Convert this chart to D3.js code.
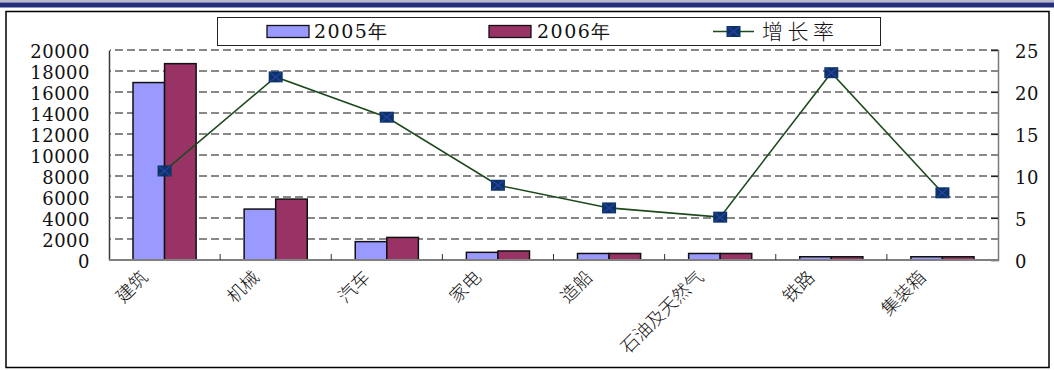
<!DOCTYPE html>
<html>
<head>
<meta charset="utf-8">
<script src="https://cdn.jsdelivr.net/npm/d3@7/dist/d3.min.js"></script>
<style>
  html, body { margin: 0; padding: 0; background: #fff; }
  svg { display: block; }
</style>
</head>
<body>
<script>
// Industry output by sector, 2005 vs 2006, with year-on-year growth rate (%)
const categories = ['建筑', '机械', '汽车', '家电', '造船', '石油及天然气', '铁路', '集装箱'];
const values2005 = [16900, 4850, 1750, 730, 620, 620, 310, 310];
const values2006 = [18700, 5800, 2150, 860, 620, 620, 310, 310];
const growthRate = [10.6, 21.8, 17.0, 8.9, 6.2, 5.1, 22.3, 8.0];
const seriesNames = ['2005年', '2006年'];
const lineName = '增长率';
const leftTicks = [0, 2000, 4000, 6000, 8000, 10000, 12000, 14000, 16000, 18000, 20000];
const rightTicks = [0, 5, 10, 15, 20, 25];

const W = 1054, H = 370;
const plot = { left: 109, right: 998, top: 50, bottom: 260 };
const barColors = ['#9999FF', '#993366'];
const numFont = '"DejaVu Serif"';
const cjkFont = '"Noto Sans CJK SC"';

const svg = d3.select('body').append('svg')
  .attr('width', W).attr('height', H)
  .attr('viewBox', `0 0 ${W} ${H}`);

svg.append('rect').attr('width', W).attr('height', H).attr('fill', '#fff');

// header strip
svg.append('rect').attr('x', 0).attr('y', 0).attr('width', W).attr('height', 2.5).attr('fill', '#b9bccb');
svg.append('rect').attr('x', 0).attr('y', 2.5).attr('width', W).attr('height', 5).attr('fill', '#252f7c');

// outer frame
svg.append('rect')
  .attr('x', 6).attr('y', 11.5).attr('width', 1043).attr('height', 356)
  .attr('fill', 'none').attr('stroke', '#000').attr('stroke-width', 1.5);

// scales
const x0 = d3.scaleBand().domain(categories).range([plot.left, plot.right]);
const bw = x0.bandwidth();
const x1 = d3.scaleBand().domain(seriesNames).range([bw * 0.216, bw * 0.784]);
const yL = d3.scaleLinear().domain([0, 20000]).range([plot.bottom, plot.top]);
const yR = d3.scaleLinear().domain([0, 25]).range([plot.bottom, plot.top]);

// dashed gridlines
svg.append('g')
  .selectAll('line')
  .data(leftTicks.filter(d => d > 0))
  .join('line')
  .attr('x1', plot.left + 1).attr('x2', plot.right)
  .attr('y1', d => yL(d)).attr('y2', d => yL(d))
  .attr('stroke', '#111').attr('stroke-width', 1)
  .attr('stroke-dasharray', '8,4')
  .attr('stroke-dashoffset', -5);

// bars
const seriesValues = [values2005, values2006];
const barG = svg.append('g');
seriesNames.forEach((name, si) => {
  barG.append('g')
    .selectAll('rect')
    .data(categories.map((c, i) => ({ c, v: seriesValues[si][i] })))
    .join('rect')
    .attr('x', d => x0(d.c) + x1(name))
    .attr('y', d => yL(d.v))
    .attr('width', x1.bandwidth())
    .attr('height', d => yL(0) - yL(d.v))
    .attr('fill', barColors[si])
    .attr('stroke', '#111')
    .attr('stroke-width', 1.5);
});

// left axis
const axisL = d3.axisLeft(yL).tickValues(leftTicks).tickFormat(d3.format('d'))
  .tickSize(0).tickPadding(19);
const gL = svg.append('g').attr('transform', `translate(${plot.left},0)`).call(axisL)
  .attr('font-family', null).attr('font-size', null);
gL.select('.domain').attr('stroke', '#3a3a3a').attr('stroke-width', 1.5);
gL.selectAll('text')
  .style('font-family', numFont).style('font-size', '18px')
  .style('letter-spacing', '0.5px')
  .attr('fill', '#111')
  .attr('dy', '0.4em');

// right axis
const axisR = d3.axisRight(yR).tickValues(rightTicks).tickFormat(d3.format('d'))
  .tickSize(-7).tickPadding(17);
const gR = svg.append('g').attr('transform', `translate(${plot.right},0)`).call(axisR)
  .attr('font-family', null).attr('font-size', null);
gR.select('.domain').attr('stroke', '#7a7a7a').attr('stroke-width', 1.5);
gR.selectAll('.tick line').attr('stroke', '#222').attr('stroke-width', 1.2);
gR.selectAll('text')
  .style('font-family', numFont).style('font-size', '18px')
  .style('letter-spacing', '0.5px')
  .attr('fill', '#111')
  .attr('dy', '0.4em');

// category axis: baseline with ticks between groups
const gB = svg.append('g');
gB.append('line')
  .attr('x1', plot.left).attr('x2', plot.right)
  .attr('y1', plot.bottom).attr('y2', plot.bottom)
  .attr('stroke', '#7f7f7f').attr('stroke-width', 2);
gB.selectAll('line.sep')
  .data(categories.slice(1))
  .join('line')
  .attr('class', 'sep')
  .attr('x1', d => x0(d)).attr('x2', d => x0(d))
  .attr('y1', plot.bottom).attr('y2', plot.bottom - 6)
  .attr('stroke', '#333').attr('stroke-width', 1);

gB.selectAll('text')
  .data(categories)
  .join('text')
  .attr('transform', d => `translate(${x0(d) + bw / 2 - 20},274) rotate(-45)`)
  .attr('text-anchor', 'end')
  .attr('dy', '0.35em')
  .style('font-family', cjkFont).style('font-size', '18px').style('font-weight', 300)
  .attr('fill', '#111')
  .text(d => d);

// growth-rate line
const pts = categories.map((c, i) => ({ c, v: growthRate[i] }));
const line = d3.line().x(d => x0(d.c) + bw / 2).y(d => yR(d.v));
svg.append('path')
  .datum(pts)
  .attr('d', line)
  .attr('fill', 'none')
  .attr('stroke', '#1d4a1d')
  .attr('stroke-width', 1.6);

function drawMarker(g, cx, cy) {
  const w = 14, h = 11;
  g.append('rect')
    .attr('x', cx - w / 2).attr('y', cy - h / 2)
    .attr('width', w).attr('height', h)
    .attr('fill', '#0b3466');
  g.append('path')
    .attr('d', `M${cx - w / 2 + 1.5},${cy - h / 2 + 1}L${cx + w / 2 - 1.5},${cy + h / 2 - 1}M${cx + w / 2 - 1.5},${cy - h / 2 + 1}L${cx - w / 2 + 1.5},${cy + h / 2 - 1}`)
    .attr('stroke', '#2a3fa8').attr('stroke-width', 1.3);
}
const markG = svg.append('g');
pts.forEach(d => drawMarker(markG, x0(d.c) + bw / 2, yR(d.v)));

// legend
const lg = svg.append('g');
lg.append('rect')
  .attr('x', 217.5).attr('y', 17.5).attr('width', 663).attr('height', 28)
  .attr('fill', '#fff').attr('stroke', '#222').attr('stroke-width', 1);

const legendSwatchX = [267, 489];
const legendTextX = [314, 537];
seriesNames.forEach((name, i) => {
  lg.append('rect')
    .attr('x', legendSwatchX[i]).attr('y', 25.5)
    .attr('width', 42).attr('height', 12)
    .attr('fill', barColors[i]).attr('stroke', '#111').attr('stroke-width', 1.3);
  lg.append('text')
    .attr('x', legendTextX[i]).attr('y', 31.5).attr('dy', '0.36em')
    .style('font-family', numFont).style('font-size', '19px')
    .style('letter-spacing', '1.5px')
    .attr('fill', '#111')
    .text(name);
});
lg.append('line')
  .attr('x1', 713).attr('x2', 754).attr('y1', 31.5).attr('y2', 31.5)
  .attr('stroke', '#1d4a1d').attr('stroke-width', 1.6);
drawMarker(lg, 733.5, 31.5);
lg.append('text')
  .attr('x', 762).attr('y', 31.5).attr('dy', '0.36em')
  .style('font-family', cjkFont).style('font-size', '21px').style('font-weight', 300)
  .style('letter-spacing', '4.5px')
  .attr('fill', '#111')
  .text(lineName);
</script>
</body>
</html>
